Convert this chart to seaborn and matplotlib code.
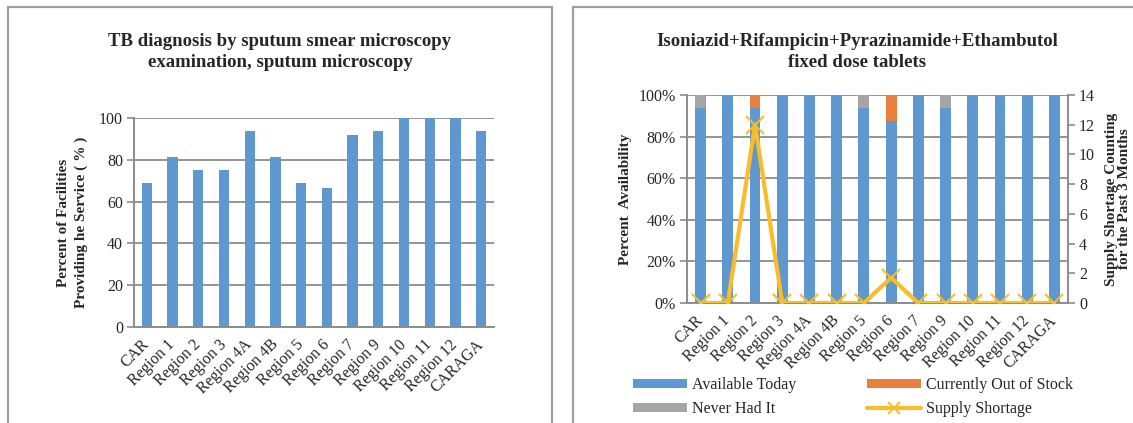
import numpy as np
import pandas as pd
import matplotlib
matplotlib.use("Agg")
import matplotlib.pyplot as plt
import matplotlib.patches as mpatches
from matplotlib.lines import Line2D
from matplotlib.ticker import FixedLocator, PercentFormatter
import seaborn as sns

# ---------------- data ----------------
regions = ["CAR", "Region 1", "Region 2", "Region 3", "Region 4A", "Region 4B",
           "Region 5", "Region 6", "Region 7", "Region 9", "Region 10",
           "Region 11", "Region 12", "CARAGA"]

service_pct = [68.75, 81.25, 75.0, 75.0, 93.75, 81.25, 68.75, 66.7, 91.7,
               93.75, 100.0, 100.0, 100.0, 94.0]

available_today = [93.75, 100, 93.75, 100, 100, 100, 93.75, 87.5, 100, 93.75,
                   100, 100, 100, 100]
out_of_stock = [0, 0, 6.25, 0, 0, 0, 0, 12.5, 0, 0, 0, 0, 0, 0]
never_had = [6.25, 0, 0, 0, 0, 0, 6.25, 0, 0, 6.25, 0, 0, 0, 0]
supply_shortage = [0, 0, 12, 0, 0, 0, 0, 1.7, 0, 0, 0, 0, 0, 0]

left_title = "TB diagnosis by sputum smear microscopy\nexamination, sputum microscopy"
right_title = "Isoniazid+Rifampicin+Pyrazinamide+Ethambutol\nfixed dose tablets"

# ---------------- style ----------------
sns.set_style("white")
plt.rcParams["font.family"] = ["Liberation Serif", "DejaVu Serif"]

BLUE = "#5E98CE"
ORANGE = "#E8803E"
GRAY = "#A5A5A5"
YELLOW = "#F7BD2A"
GRID = "#8C8C8C"
TICK_FS = 11.5
LAB_FS = 11
TITLE_FS = 13.5

W, H = 1133, 423
fig = plt.figure(figsize=(W / 100, H / 100), dpi=100)


def fx(px):
    return px / W


def fy(py):
    return 1 - py / H


# panel frames
for x0, x1 in [(8, 552), (573, 1117 + 40)]:
    fig.patches.append(mpatches.Rectangle((fx(x0), -0.2), fx(x1 - x0), fy(7) + 0.2,
                                          transform=fig.transFigure, fill=False,
                                          edgecolor="#A0A0A0", linewidth=1.6, zorder=0))


def style_axes(ax):
    for s in ["top", "right"]:
        ax.spines[s].set_visible(False)
    ax.spines["left"].set_color(GRID)
    ax.spines["bottom"].set_color(GRID)
    ax.spines["left"].set_linewidth(1.4)
    ax.spines["bottom"].set_linewidth(1.4)
    ax.yaxis.grid(True, color=GRID, linewidth=1.3)
    ax.xaxis.grid(False)
    ax.set_axisbelow(True)
    n = len(regions)
    ax.set_xlim(-0.5, n - 0.5)
    ax.set_xticks(range(n))
    ax.set_xticklabels(regions, rotation=45, ha="right", va="center",
                       rotation_mode="anchor", fontsize=TICK_FS)
    ax.xaxis.set_minor_locator(FixedLocator(np.arange(-0.5, n, 1.0)))
    ax.tick_params(axis="x", which="major", length=0, pad=11)
    ax.tick_params(axis="x", which="minor", length=5, width=1.2, color=GRID)
    ax.tick_params(axis="y", which="major", length=5, width=1.2, color=GRID,
                   labelsize=TICK_FS, pad=3, left=True)
    ax.set_xlabel("")


# ---------------- left chart ----------------
axL = fig.add_axes([fx(134), fy(327), fx(494 - 134), (327 - 118) / H])
dfL = pd.DataFrame({"region": regions, "pct": service_pct})
sns.barplot(data=dfL, x="region", y="pct", color=BLUE, width=0.4, ax=axL,
            saturation=1, edgecolor="none")
axL.set_ylim(0, 100)
axL.set_yticks(range(0, 101, 20))
style_axes(axL)
axL.set_ylabel("Percent of Facilities\nProviding he Service ( % )", fontsize=LAB_FS,
               fontweight="bold", labelpad=8, linespacing=1.45)
fig.text(fx(280), fy(52), left_title, ha="center", va="center",
         fontsize=TITLE_FS, fontweight="bold", linespacing=1.35)

# ---------------- right chart ----------------
axR = fig.add_axes([fx(687), fy(303), fx(1068 - 687), (303 - 95) / H])
avail = np.array(available_today)
oos = np.array(out_of_stock)
never = np.array(never_had)
dfR = pd.DataFrame({"region": regions,
                    "top": avail + oos + never,
                    "mid": avail + oos,
                    "avail": avail})
sns.barplot(data=dfR, x="region", y="top", color=GRAY, width=0.4, ax=axR,
            saturation=1, edgecolor="none")
sns.barplot(data=dfR, x="region", y="mid", color=ORANGE, width=0.4, ax=axR,
            saturation=1, edgecolor="none")
sns.barplot(data=dfR, x="region", y="avail", color=BLUE, width=0.4, ax=axR,
            saturation=1, edgecolor="none")
axR.set_ylim(0, 100)
axR.set_yticks(range(0, 101, 20))
axR.yaxis.set_major_formatter(PercentFormatter(decimals=0))
style_axes(axR)
axR.set_ylabel("Percent  Availability", fontsize=LAB_FS, fontweight="bold", labelpad=5)

ax2 = axR.twinx()
dfS = pd.DataFrame({"pos": np.arange(len(regions)), "short": supply_shortage})
sns.lineplot(data=dfS, x="pos", y="short", ax=ax2, color=YELLOW, linewidth=3,
             marker="x", markersize=13, markeredgewidth=1.5,
             markeredgecolor=YELLOW, zorder=5)
ax2.set_ylim(0, 14)
ax2.set_yticks(range(0, 15, 2))
ax2.set_xlim(-0.5, len(regions) - 0.5)
for s in ["top", "left", "bottom"]:
    ax2.spines[s].set_visible(False)
ax2.spines["right"].set_color(GRID)
ax2.spines["right"].set_linewidth(1.4)
ax2.tick_params(axis="y", length=5, width=1.2, color=GRID, labelsize=TICK_FS, pad=3)
ax2.grid(False)
ax2.set_ylabel("Supply Shortage Counting\nfor the Past 3 Months", fontsize=LAB_FS,
               fontweight="bold", labelpad=7, linespacing=1.05)
for lab in ax2.get_xticklabels():
    lab.set_visible(False)
ax2.set_xlabel("")

fig.text(fx(857), fy(52), right_title, ha="center", va="center",
         fontsize=TITLE_FS, fontweight="bold", linespacing=1.35)

# legend
handles = [
    mpatches.Patch(facecolor=BLUE, edgecolor="none"),
    mpatches.Patch(facecolor=GRAY, edgecolor="none"),
    mpatches.Patch(facecolor=ORANGE, edgecolor="none"),
    Line2D([], [], color=YELLOW, linewidth=3, marker="x", markersize=9,
           markeredgewidth=1.4),
]
labels = ["Available Today", "Never Had It", "Currently Out of Stock", "Supply Shortage"]
fig.legend(handles, labels, loc="upper left", bbox_to_anchor=(fx(633), fy(377)),
           ncol=2, frameon=False, fontsize=TICK_FS, handlelength=3.4,
           handleheight=0.55, handletextpad=0.3, columnspacing=4.4,
           labelspacing=0.5, borderpad=0, borderaxespad=0)

fig.savefig("out.png", dpi=100)
